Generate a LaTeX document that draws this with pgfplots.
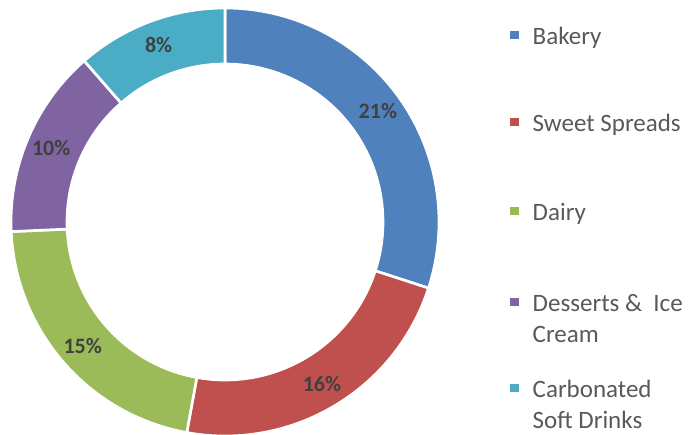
\documentclass[border=0pt]{standalone}
\usepackage{pgfplots}
\pgfplotsset{compat=1.18}
\usepackage{pgfplotstable}
\usepackage{fontspec}
\setmainfont{Carlito}

\definecolor{slice0}{HTML}{4F81BD}
\definecolor{slice1}{HTML}{C0504D}
\definecolor{slice2}{HTML}{9BBB59}
\definecolor{slice3}{HTML}{8064A2}
\definecolor{slice4}{HTML}{4BACC6}
\definecolor{legtext}{HTML}{595959}
\definecolor{labtext}{HTML}{404040}

% share of each category (labels show these values)
\pgfplotstableread{
value
21
16
15
10
8
}\donutdata

\begin{document}
\begin{tikzpicture}
% cumulative angles, clockwise from 12 o'clock
\pgfmathsetmacro\total{70}
\xdef\cum{90}
\foreach \i in {0,...,4}{
  \pgfplotstablegetelem{\i}{value}\of\donutdata
  \xdef\curval{\pgfplotsretval}
  \pgfmathsetmacro\span{\curval*360/\total}
  \pgfmathsetmacro\endang{\cum-\span}
  \pgfmathsetmacro\midang{\cum-\span/2}
  \expandafter\xdef\csname start\i\endcsname{\cum}
  \expandafter\xdef\csname end\i\endcsname{\endang}
  \expandafter\xdef\csname mid\i\endcsname{\midang}
  \expandafter\xdef\csname val\i\endcsname{\curval}
  \xdef\cum{\endang}
}
\def\Ro{160.5pt}
\def\Ri{118.5pt}
\def\Rm{141.75pt}
\begin{axis}[
    x=0.75pt, y=0.75pt,
    xmin=0, xmax=690, ymin=0, ymax=435,
    hide axis, clip=false,
  ]
  \pgfplotsinvokeforeach{0,...,4}{
    \fill[slice#1, draw=white, line width=2pt]
      (axis cs:225,213) ++(\csname start#1\endcsname:\Ro)
      arc[start angle=\csname start#1\endcsname, end angle=\csname end#1\endcsname, radius=\Ro]
      -- ([shift={(\csname end#1\endcsname:\Ri)}]axis cs:225,213)
      arc[start angle=\csname end#1\endcsname, end angle=\csname start#1\endcsname, radius=\Ri]
      -- cycle;
    \node[text=labtext, font=\fontsize{16.5}{18}\selectfont\bfseries]
      at ([shift={(\csname mid#1\endcsname:\Rm)}]axis cs:225,213) {\csname val#1\endcsname\%};
  }
  % legend
  \fill[slice0] (axis cs:510,395.5) rectangle (axis cs:518.5,404);
  \node[anchor=base west, text=legtext, font=\fontsize{18.75}{23}\selectfont] at (axis cs:528,390) {Bakery};
  \fill[slice1] (axis cs:510,308.5) rectangle (axis cs:518.5,317);
  \node[anchor=base west, text=legtext, font=\fontsize{18.75}{23}\selectfont] at (axis cs:528,303) {Sweet Spreads};
  \fill[slice2] (axis cs:510,219.5) rectangle (axis cs:518.5,228);
  \node[anchor=base west, text=legtext, font=\fontsize{18.75}{23}\selectfont] at (axis cs:528,214) {Dairy};
  \fill[slice3] (axis cs:510,128.5) rectangle (axis cs:518.5,137);
  \node[anchor=base west, text=legtext, font=\fontsize{18.75}{23}\selectfont] at (axis cs:528,123) {Desserts \&\ \ Ice};
  \node[anchor=base west, text=legtext, font=\fontsize{18.75}{23}\selectfont] at (axis cs:528,92) {Cream};
  \fill[slice4] (axis cs:510,42.5) rectangle (axis cs:518.5,51);
  \node[anchor=base west, text=legtext, font=\fontsize{18.75}{23}\selectfont] at (axis cs:528,37) {Carbonated};
  \node[anchor=base west, text=legtext, font=\fontsize{18.75}{23}\selectfont] at (axis cs:528,6) {Soft Drinks};
\end{axis}
\pgfresetboundingbox
\useasboundingbox (current axis.south west) rectangle (current axis.north east);
\end{tikzpicture}
\end{document}
